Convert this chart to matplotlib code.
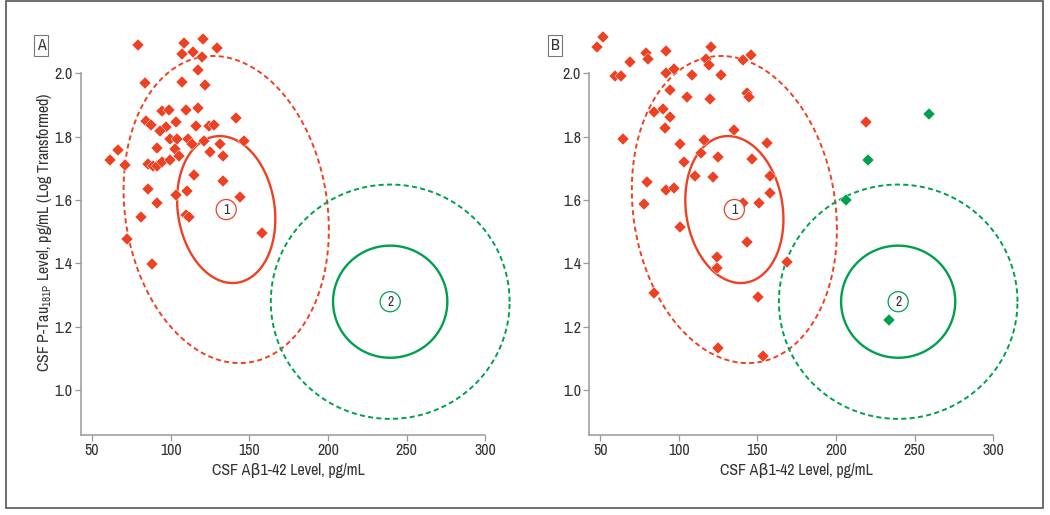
import numpy as np
import matplotlib
matplotlib.use("Agg")
import matplotlib.pyplot as plt
from matplotlib.patches import Rectangle, Polygon

plt.rcParams['font.family'] = ['Archivo Narrow', 'DejaVu Sans']
plt.rcParams['mathtext.fontset'] = 'custom'
plt.rcParams['mathtext.rm'] = 'Archivo Narrow'

# Panel A: all subjects (one colour)
a_x = [79.5, 108.6, 120.7, 129.2, 107.0, 114.0, 119.8, 117.2, 83.7, 107.1, 121.8, 94.2, 98.8, 110.0,
       117.5, 141.4, 84.1, 87.4, 96.9, 103.2, 93.0, 115.8, 124.5, 127.6, 99.5, 103.8, 110.9, 113.4,
       121.5, 131.5, 146.8, 91.1, 102.6, 105.3, 125.1, 133.5, 61.5, 66.8, 71.1, 85.8, 88.6, 91.4,
       94.6, 99.3, 114.9, 133.1, 85.7, 110.2, 103.6, 144.0, 91.1, 81.3, 109.9, 111.4, 158.1, 72.0, 88.4]
a_y = [2.089, 2.095, 2.108, 2.080, 2.060, 2.067, 2.053, 2.012, 1.971, 1.972, 1.964, 1.881, 1.883, 1.884,
       1.891, 1.858, 1.849, 1.838, 1.831, 1.847, 1.817, 1.834, 1.834, 1.836, 1.792, 1.792, 1.792, 1.776,
       1.785, 1.778, 1.785, 1.765, 1.760, 1.739, 1.751, 1.739, 1.728, 1.759, 1.710, 1.714, 1.709, 1.707,
       1.720, 1.726, 1.678, 1.661, 1.634, 1.630, 1.616, 1.609, 1.591, 1.545, 1.554, 1.545, 1.496, 1.477, 1.398]

# Panel B: subjects assigned to component 1 (red) and component 2 (green)
b1_x = [47.9, 51.5, 59.5, 63.4, 64.2, 69.1, 79.2, 80.1, 91.8, 92.0, 94.1, 96.6, 83.9, 90.2, 94.5,
        90.9, 108.3, 105.1, 119.9, 117.2, 118.9, 120.4, 126.9, 140.7, 145.8, 143.6, 144.9, 135.0,
        115.7, 100.4, 156.0, 114.0, 124.7, 146.8, 103.4, 110.4, 121.8, 158.2, 79.7, 92.0, 97.0,
        158.2, 78.0, 141.0, 150.8, 100.4, 143.5, 124.5, 124.0, 168.7, 83.9, 150.6, 124.8, 153.3, 218.9]
b1_y = [2.082, 2.116, 1.992, 1.992, 1.792, 2.037, 2.065, 2.044, 2.070, 2.000, 1.949, 2.013, 1.879,
        1.887, 1.861, 1.829, 1.995, 1.926, 1.918, 2.044, 2.026, 2.082, 1.995, 2.042, 2.058, 1.937,
        1.926, 1.821, 1.789, 1.776, 1.779, 1.747, 1.735, 1.731, 1.719, 1.676, 1.674, 1.677, 1.658,
        1.632, 1.639, 1.621, 1.587, 1.590, 1.591, 1.516, 1.468, 1.421, 1.387, 1.403, 1.307, 1.294,
        1.134, 1.109, 1.847]
b2_x = [259.2, 220.1, 206.3, 233.9]
b2_y = [1.871, 1.725, 1.600, 1.221]

# Mixture components: mean, spread and correlation
comp_labels = ['1', '2']
comp_mx = [135.3, 239.5]
comp_my = [1.570, 1.279]
comp_sx = [31.2, 36.3]
comp_sy = [0.232, 0.177]
comp_r = [-0.13, 0.0]
outer_scale = 2.09

red = '#EE4124'
green = '#00A04E'
comp_colors = [red, green]

xticks = [50, 100, 150, 200, 250, 300]
yticks = [1.0, 1.2, 1.4, 1.6, 1.8, 2.0]


def draw_ellipse(ax, i, k, ls, lw):
    # ellipse of the component at k standard deviations
    t = np.linspace(0, 2 * np.pi, 400, endpoint=False)
    u, v = np.cos(t), np.sin(t)
    r = comp_r[i]
    ex = comp_mx[i] + k * comp_sx[i] * u
    ey = comp_my[i] + k * comp_sy[i] * (r * u + np.sqrt(1 - r ** 2) * v)
    patch = Polygon(np.column_stack([ex, ey]), closed=True, fill=False, ec=comp_colors[i],
                    lw=lw, clip_on=False, zorder=2)
    if ls == '--':
        patch.set_linestyle((0, (2.6, 1.7)))
    ax.add_patch(patch)


def setup_axes(ax):
    ax.set_xlim(43, 300)
    ax.set_ylim(0.858, 2.14)
    ax.set_xticks(xticks)
    ax.set_yticks(yticks)
    ax.set_yticklabels([f'{v:.1f}' for v in yticks])
    for s in ['top', 'right']:
        ax.spines[s].set_visible(False)
    for s in ['left', 'bottom']:
        ax.spines[s].set_color('#999999')
        ax.spines[s].set_linewidth(1.1)
    ax.spines['left'].set_bounds(0.858, 2.0)
    ax.spines['bottom'].set_bounds(43, 300)
    ax.tick_params(direction='out', length=4, width=0.9, color='#999999',
                   labelsize=11.5, labelcolor='#333333', pad=2)
    ax.set_xlabel('CSF A\u03b21-42 Level, pg/mL', fontsize=11.5, color='#333333')
    ax.xaxis.set_label_coords(0.512, -0.068)
    ax.set_facecolor('none')


def draw_components(ax):
    for i in range(2):
        draw_ellipse(ax, i, outer_scale, '--', 1.4)
        draw_ellipse(ax, i, 1.0, '-', 1.7)
        ax.text(comp_mx[i], comp_my[i], comp_labels[i], fontsize=10, color='#333333',
                ha='center', va='center', zorder=5,
                bbox=dict(boxstyle='circle,pad=0.22', fc='white', ec=comp_colors[i], lw=0.9))


fig = plt.figure(figsize=(10.5, 5.15), dpi=100)
ax_a = fig.add_axes([0.0771, 0.1553, 0.3852, 0.7883])
ax_b = fig.add_axes([0.5612, 0.1553, 0.3848, 0.7883])

# Panel A
setup_axes(ax_a)
draw_components(ax_a)
ax_a.plot(a_x, a_y, 'D', color=red, ms=6.2, mec='white', mew=0.3, zorder=3, clip_on=False)
ax_a.set_ylabel('CSF P-Tau$_{\\mathrm{181P}}$ Level, pg/mL (Log Transformed)', fontsize=11.5, color='#333333')
ax_a.yaxis.set_label_coords(-0.066, 0.5)

# Panel B
setup_axes(ax_b)
draw_components(ax_b)
ax_b.plot(b1_x, b1_y, 'D', color=red, ms=6.2, mec='white', mew=0.3, zorder=3, clip_on=False)
ax_b.plot(b2_x, b2_y, 'D', color=green, ms=6.2, mec='white', mew=0.3, zorder=3, clip_on=False)

# panel letters
for px, letter in [(0.039, 'A'), (0.5286, 'B')]:
    fig.text(px, 0.911, letter, fontsize=11.5, color='#333333', ha='center', va='center',
             bbox=dict(boxstyle='square,pad=0.18', fc='white', ec='#777777', lw=0.8))

# outer frame
fig.patches.append(Rectangle((0.0057, 0.0136), 0.9876, 0.9845, transform=fig.transFigure,
                             fill=False, ec='#555555', lw=1.2))

plt.savefig('out.png', dpi=100)
